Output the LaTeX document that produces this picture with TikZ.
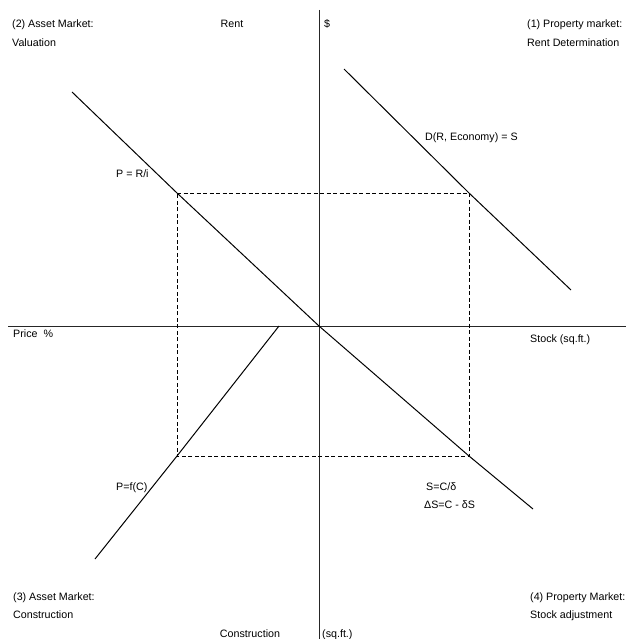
\documentclass[tikz,border=0pt]{standalone}
\usepackage{fontspec}
\setmainfont{Liberation Sans}
\begin{document}
\begin{tikzpicture}[x=1pt,y=-1pt,
  lbl/.style={anchor=base west,inner sep=0pt,font=\fontsize{10.7}{12}\selectfont},
  lblc/.style={anchor=base,inner sep=0pt,font=\fontsize{10.7}{12}\selectfont},
  axis/.style={draw=black!85,line width=0.8pt},
  curve/.style={draw=black,line width=1pt},
  guide/.style={draw=black,line width=0.65pt,dash pattern=on 4pt off 2.5pt}]
\useasboundingbox[fill=white] (0,0) rectangle (626,639);
% axes
\coordinate (O) at (319,326);
\coordinate (vt) at (319,10);
\coordinate (vb) at (319,639);
\coordinate (hl) at (8,326);
\coordinate (hr) at (626,326);
\path[axis] (vt) -- (vb);
\path[axis] (hl) -- (hr);
% box corners
\coordinate (TL) at (177,193);
\coordinate (TR) at (469,193);
\coordinate (BL) at (177,456);
\coordinate (BR) at (469,456);
\path[guide] (TL) -- (TR) -- (BR) -- (BL) -- cycle;
% curves
\coordinate (a1) at (72,92);
\coordinate (a2) at (533,509);
\path[curve] (a1) -- (TL) -- (O) -- (BR) -- (a2);
\coordinate (c1) at (95,559);
\coordinate (c2) at (279,326);
\path[curve] (c1) -- (BL) -- (c2);
\coordinate (d1) at (344,69);
\coordinate (d2) at (571,290);
\path[curve] (d1) -- (TR) -- (d2);
% labels
\node[lbl] (q2a) at (12,28) {(2) Asset Market:};
\node[lbl] (q2b) at (12,47) {Valuation};
\node[lblc] (rent) at (232,28) {Rent};
\node[lbl] (dol) at (324,28) {\$};
\node[lbl] (q1a) at (527,28) {(1) Property market:};
\node[lbl] (q1b) at (527,47) {Rent Determination};
\node[lbl] (dem) at (425,141) {D(R, Economy) = S};
\node[lbl] (pri) at (116,177) {P = R/i};
\node[lbl] (price) at (13,337) {Price\ \ \%};
\node[lbl] (stock) at (530,342) {Stock (sq.ft.)};
\node[lbl] (pfc) at (116,490) {P=f(C)};
\node[lbl] (scd) at (426,490) {S=C/δ};
\node[lbl] (dsc) at (424,508) {ΔS=C - δS};
\node[lbl] (q3a) at (13,600) {(3) Asset Market:};
\node[lbl] (q3b) at (13,618) {Construction};
\node[lbl] (q4a) at (530,600) {(4) Property Market:};
\node[lbl] (q4b) at (530,618) {Stock adjustment};
\node[lblc] (cons) at (250,637) {Construction};
\node[lbl] (sqft) at (322,637) {(sq.ft.)};
\end{tikzpicture}
\end{document}
